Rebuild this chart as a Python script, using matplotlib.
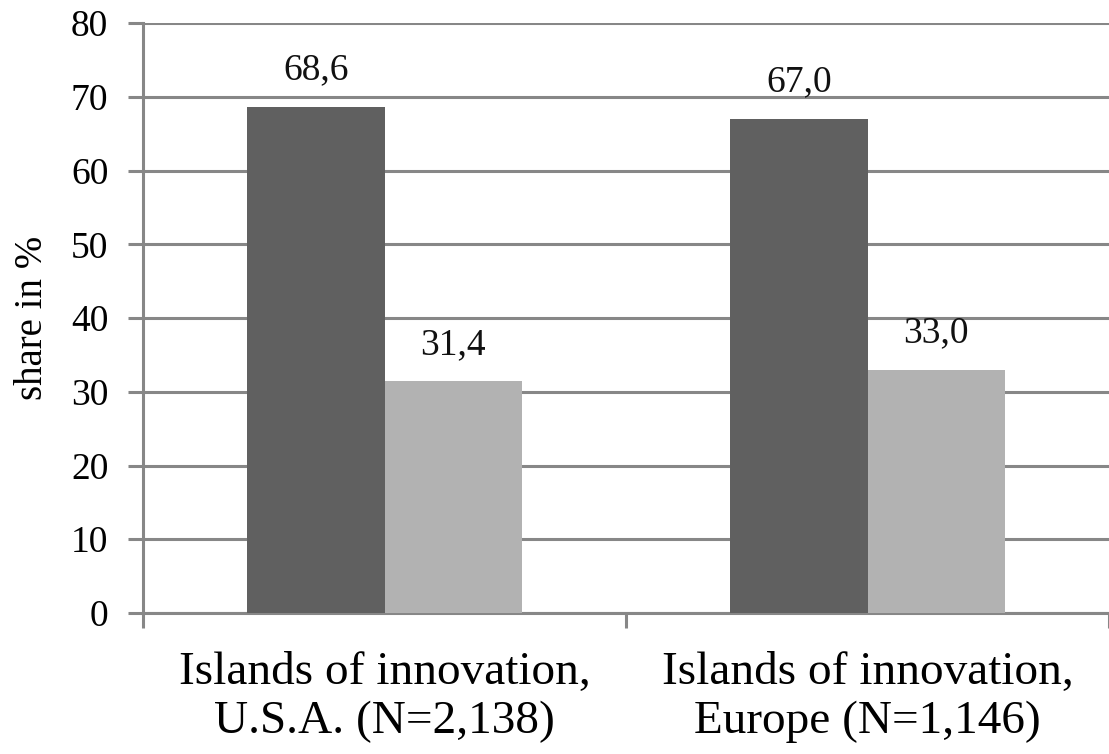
import matplotlib
matplotlib.use("Agg")
import matplotlib.pyplot as plt
import numpy as np

categories = ["Islands of innovation,\nU.S.A. (N=2,138)", "Islands of innovation,\nEurope (N=1,146)"]
series_a = [68.6, 67.0]
series_b = [31.4, 33.0]
labels_a = ["68,6", "67,0"]
labels_b = ["31,4", "33,0"]
yticks = [0, 10, 20, 30, 40, 50, 60, 70, 80]

plt.rcParams['font.family'] = ['Liberation Serif', 'DejaVu Serif']

fig = plt.figure(figsize=(11.09, 7.54), dpi=100)
ax = fig.add_axes([143/1109, 141/754, 1 - 143/1109, (613-23)/754])

x = np.arange(len(categories))
w = 0.284
grid_c = '#878787'
bars_a = ax.bar(x - w/2, series_a, w, color='#606060', zorder=3)
bars_b = ax.bar(x + w/2, series_b, w, color='#b2b2b2', zorder=3)

for bars, labs in ((bars_a, labels_a), (bars_b, labels_b)):
    for b, lab in zip(bars, labs):
        ax.annotate(lab, (b.get_x() + b.get_width()/2, b.get_height()),
                    xytext=(0, 14), textcoords='offset points',
                    ha='center', va='bottom', fontsize=27, color='#111111')

ax.set_xlim(-0.5, 1.5)
ax.set_ylim(0, 80)
ax.set_yticks(yticks)
ax.yaxis.grid(True, color=grid_c, linewidth=2.2, zorder=0)
ax.set_axisbelow(True)

ax.set_xticks([-0.5, 0.5, 1.5])
ax.set_xticklabels([])
ax.set_xticks(x, minor=True)
ax.set_xticklabels(categories, minor=True, fontsize=34, linespacing=1.2)
ax.tick_params(axis='x', which='minor', length=0, pad=28)
ax.tick_params(axis='x', which='major', length=11, width=2.2, color=grid_c)
ax.tick_params(axis='y', length=11, width=2.2, color=grid_c, labelsize=27, pad=14)

for s in ('top', 'right'):
    ax.spines[s].set_visible(False)
for s in ('left', 'bottom'):
    ax.spines[s].set_color(grid_c)
    ax.spines[s].set_linewidth(2.2)

ax.set_ylabel("share in %", fontsize=28, labelpad=14)

fig.savefig("out.png", dpi=100)
